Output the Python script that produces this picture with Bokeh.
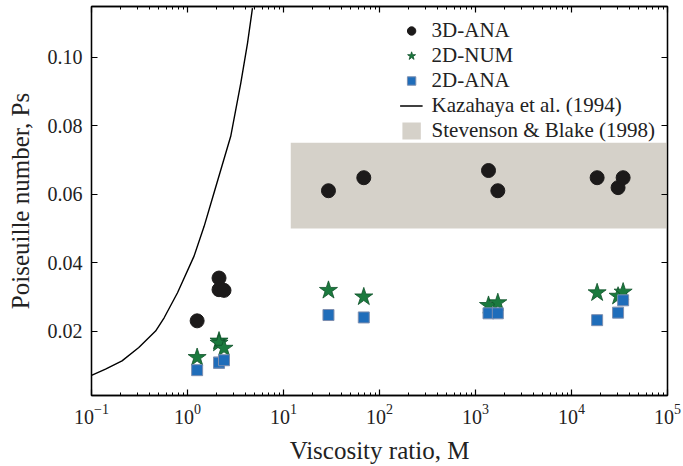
from bokeh.plotting import figure
from bokeh.models import (LogAxis, LinearAxis, Legend, LegendItem, FixedTicker,
                          Range1d, PrintfTickFormatter, LogTickFormatter)
from bokeh.embed import file_html
from bokeh.resources import INLINE

# ---- data ----
M_vals = [1.26, 2.13, 2.13, 2.40, 29.4, 68.6, 1366, 1708, 18490, 30560, 34500]
ps_3d_ana = [0.0230, 0.0355, 0.0321, 0.0319, 0.0610, 0.0648, 0.0669, 0.0610, 0.0648, 0.0619, 0.0648]
ps_2d_num = [0.0123, 0.0171, 0.0165, 0.0150, 0.0319, 0.0300, 0.0275, 0.0283, 0.0312, 0.0302, 0.0314]
ps_2d_ana = [0.0086, 0.0108, 0.0108, 0.0115, 0.0247, 0.0240, 0.0252, 0.0252, 0.0232, 0.0254, 0.0290]
kaz_M = [0.100, 0.140, 0.208, 0.311, 0.465, 0.571, 0.787, 1.17, 1.49, 1.89, 2.82, 3.59, 4.22, 4.75]
kaz_ps = [0.0071, 0.0089, 0.0113, 0.0152, 0.0200, 0.0239, 0.0312, 0.0419, 0.0506, 0.0604, 0.0769, 0.0924, 0.1041, 0.1143]
band_M = [11.9, 1e5]
band_ps = [0.050, 0.075]
y_ticks = [0.02, 0.04, 0.06, 0.08, 0.10]
x_ticks = [1e-1, 1e0, 1e1, 1e2, 1e3, 1e4, 1e5]
x_minor = [m * 10.0 ** e for e in range(-1, 5) for m in range(2, 10)]
x_title = "Viscosity ratio, M"
y_title = "Poiseuille number, Ps"

FONT = "Liberation Serif"

p = figure(width=683, height=466, x_axis_type="log",
           x_range=Range1d(0.1, 1e5), y_range=Range1d(0.0012, 0.1148),
           output_backend="svg", toolbar_location=None,
           min_border_left=91, min_border_right=16, min_border_top=6, min_border_bottom=70)
p.background_fill_color = "white"
p.border_fill_color = "white"
p.xgrid.visible = False
p.ygrid.visible = False
p.outline_line_color = "black"
p.outline_line_width = 1.3

band = p.quad(left=band_M[0], right=band_M[1], bottom=band_ps[0], top=band_ps[1],
              fill_color="#d5d1c9", line_color=None)
kaz = p.line(kaz_M, kaz_ps, line_color="black", line_width=1.4)
c3 = p.scatter(M_vals, ps_3d_ana, marker="circle", size=14, fill_color="#1c1a1a", line_color="#1c1a1a")
s2 = p.scatter(M_vals, ps_2d_num, marker="star", size=19, fill_color="#1b7a3e", line_color="#0f5229", line_width=0.8)
q2 = p.scatter(M_vals, ps_2d_ana, marker="square", size=11, fill_color="#1f6dba", line_color="#7d8fb0", line_width=1)

def style_axis(ax, labels=True):
    ax.axis_line_color = "black"
    ax.axis_line_width = 1.3
    ax.major_tick_in = 6
    ax.major_tick_out = 0
    ax.minor_tick_in = 3
    ax.minor_tick_out = 0
    ax.major_tick_line_color = "black"
    ax.major_tick_line_width = 1.2
    ax.minor_tick_line_color = "black"
    ax.minor_tick_line_width = 1
    ax.major_label_text_font = FONT
    ax.major_label_text_font_size = "20px"
    ax.major_label_text_color = "#222222"
    ax.axis_label_text_font = FONT
    ax.axis_label_text_font_size = "25px"
    ax.axis_label_text_font_style = "normal"
    ax.axis_label_text_color = "#222222"
    if not labels:
        ax.major_label_text_font_size = "1px"
        ax.major_label_text_color = None
        ax.major_label_standoff = 0

xb = p.xaxis[0]
xb.ticker = FixedTicker(ticks=x_ticks, minor_ticks=x_minor)
xb.formatter = LogTickFormatter()
style_axis(xb)
xb.major_label_standoff = 8
xb.axis_label = x_title
xb.axis_label_standoff = 10

yl = p.yaxis[0]
yl.ticker = FixedTicker(ticks=y_ticks)
yl.formatter = PrintfTickFormatter(format="%.2f")
style_axis(yl)
yl.minor_tick_line_color = None
yl.major_label_standoff = 9
yl.axis_label = y_title
yl.axis_label_standoff = 11

xt = LogAxis(ticker=FixedTicker(ticks=x_ticks, minor_ticks=x_minor),
             formatter=PrintfTickFormatter(format=" "))
style_axis(xt, labels=False)
p.add_layout(xt, "above")

yr = LinearAxis(ticker=FixedTicker(ticks=y_ticks), formatter=PrintfTickFormatter(format=" "))
style_axis(yr, labels=False)
yr.minor_tick_line_color = None
p.add_layout(yr, "right")

legend = Legend(items=[
    LegendItem(label="3D-ANA", renderers=[c3]),
    LegendItem(label="2D-NUM", renderers=[s2]),
    LegendItem(label="2D-ANA", renderers=[q2]),
    LegendItem(label="Kazahaya et al. (1994)", renderers=[kaz]),
    LegendItem(label="Stevenson & Blake (1998)", renderers=[band]),
], location="top_right")
legend.border_line_color = None
legend.background_fill_alpha = 0
legend.label_text_font = FONT
legend.label_text_font_size = "21px"
legend.label_text_line_height = 1.0
legend.label_text_color = "#222222"
legend.glyph_width = 23
legend.glyph_height = 21
legend.label_height = 21
legend.spacing = 0
legend.label_standoff = 9
legend.padding = 5
legend.margin = 12
p.add_layout(legend)

open("out.html", "w").write(file_html(p, INLINE))
